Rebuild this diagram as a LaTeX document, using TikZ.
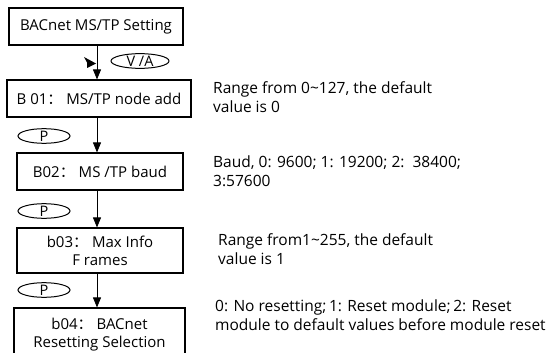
\documentclass[tikz,border=0pt]{standalone}
\usepackage{fontspec}
\setmainfont{Open Sans}
\newfontfamily\cjk{Noto Sans CJK SC}
\usetikzlibrary{arrows.meta,shapes.geometric}
\begin{document}
\begin{tikzpicture}[x=1pt,y=-1pt,
  box/.style={draw,line width=1.1pt,inner sep=0pt,align=center,font=\fontsize{15}{18}\selectfont},
  tag/.style={draw,ellipse,line width=1pt,inner sep=0pt,font=\fontsize{14.5}{14.5}\selectfont},
  note/.style={anchor=west,align=left,inner sep=0pt,font=\fontsize{15.5}{19}\selectfont},
  conn/.style={line width=0.8pt,-{Triangle[length=10pt,width=8pt]}}]
\useasboundingbox (0,0) rectangle (554,353);
\clip (0,0) rectangle (554,353);
\coordinate (ax) at (97,0);
\node[box,minimum width=174pt,minimum height=37pt] (b1) at (96,26.5) {BACnet MS/TP Setting};
\node[box,minimum width=184pt,minimum height=37pt] (b2) at (99,98.5) {B 01{\cjk ：}\ MS/TP node add};
\node[box,minimum width=166pt,minimum height=37pt] (b3) at (100,171.5) {B02{\cjk ：}\ MS /TP baud};
\node[box,minimum width=166pt,minimum height=45pt] (b4) at (100,250.5) {b03{\cjk ：}\ Max Info\\F rames};
\node[box,minimum width=171pt,minimum height=64pt,text depth=14pt] (b5) at (99.5,340) {b04{\cjk ：}\ BACnet\\Resetting Selection};
\draw[conn] (b1.south -| ax) -- (b2.north -| ax);
\draw[conn] (b2.south -| ax) -- (b3.north -| ax);
\draw[conn] (b3.south -| ax) -- (b4.north -| ax);
\draw[conn] (b4.south -| ax) -- (b5.north -| ax);
\fill (84,57) -- (96,63.5) -- (87,68) -- (87,62.5) -- cycle;
\node[tag,minimum width=58pt,minimum height=13pt] (va) at (140,61) {V /A};
\node[tag,minimum width=52pt,minimum height=14pt] (p1) at (44,136) {P};
\node[tag,minimum width=52pt,minimum height=14pt] (p2) at (44,211) {P};
\node[tag,minimum width=52pt,minimum height=14pt] (p3) at (44,290) {P};
\node[note] (n1) at (213,97) {Range from 0\textasciitilde127, the default\\value is 0};
\node[note] (n2) at (213,171) {Baud, 0: 9600; 1: 19200; 2:\ \ 38400;\\3:57600};
\node[note] (n3) at (218,249) {Range from1\textasciitilde255, the default\\value is 1};
\node[note] (n4) at (215,315) {0: No resetting;\,1: Reset module;\,2: Reset\\module to default values before module reset};
\end{tikzpicture}
\end{document}
